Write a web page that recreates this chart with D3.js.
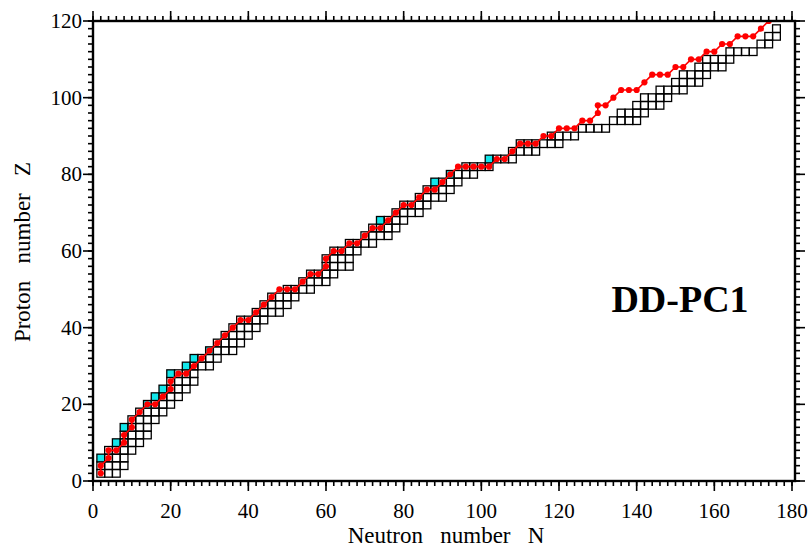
<!DOCTYPE html>
<html>
<head>
<meta charset="utf-8">
<script src="https://cdn.jsdelivr.net/npm/d3@7"></script>
<style>
  body { margin: 0; background: #fff; }
  svg { display: block; }
  text { font-family: "Liberation Serif", "Times New Roman", serif; white-space: pre; }
</style>
</head>
<body>
<svg id="chart" width="811" height="550"></svg>
<script>
// Even-even nuclei shown as squares: [Z, first N, last N]
const squareRows = [
  [2, 2, 6], [4, 2, 8], [6, 2, 8], [8, 4, 10], [10, 6, 12], [12, 8, 14],
  [14, 8, 14], [16, 10, 16], [18, 12, 18], [20, 14, 20], [22, 16, 22],
  [24, 18, 24], [26, 20, 26], [28, 20, 26], [30, 24, 30], [32, 26, 32],
  [34, 30, 36], [36, 32, 38], [38, 34, 40], [40, 36, 42], [42, 38, 44],
  [44, 42, 48], [46, 44, 50], [48, 46, 52], [50, 50, 56], [52, 54, 60],
  [54, 56, 62], [56, 60, 66], [58, 60, 66], [60, 62, 68], [62, 66, 72],
  [64, 70, 76], [66, 72, 78], [68, 74, 80], [70, 78, 84], [72, 80, 86],
  [74, 84, 90], [76, 86, 92], [78, 88, 94], [80, 92, 98], [82, 96, 102],
  [84, 102, 108], [86, 108, 114], [88, 110, 120], [90, 118, 124],
  [92, 126, 132], [94, 134, 140], [96, 136, 142], [98, 140, 146],
  [100, 142, 148], [102, 146, 152], [104, 150, 156], [106, 152, 158],
  [108, 156, 162], [110, 158, 164], [112, 164, 170], [114, 172, 174],
  [116, 174, 176], [118, 176, 176]
];

// Squares filled cyan: [N, Z]
const cyanNuclei = [
  [2, 6], [6, 10], [8, 14], [14, 20], [16, 22], [18, 24], [20, 28],
  [24, 30], [26, 32], [30, 34], [74, 68], [88, 78], [92, 80], [102, 84]
];

// DD-PC1 two-proton drip line: [N, Z]
const dripLine = [
  [2, 2], [2, 4], [4, 6], [4, 8], [6, 8], [8, 10], [8, 12], [10, 14], [10, 16],
  [12, 18], [14, 20], [16, 20], [18, 22], [20, 24], [20, 26], [22, 28], [24, 28],
  [26, 30], [28, 32], [30, 34], [32, 36], [34, 38], [36, 40], [38, 42], [40, 42],
  [42, 44], [44, 46], [46, 48], [48, 50], [50, 50], [52, 50], [54, 52], [56, 54],
  [58, 54], [60, 56], [60, 58], [62, 60], [64, 60], [66, 62], [68, 62], [70, 64],
  [72, 66], [74, 66], [76, 68], [78, 70], [80, 72], [82, 72], [84, 74], [86, 76],
  [88, 76], [90, 78], [92, 80], [94, 82], [96, 82], [98, 82], [100, 82], [102, 82],
  [104, 84], [106, 84], [108, 86], [110, 88], [112, 88], [114, 88], [116, 90],
  [118, 90], [120, 92], [122, 92], [124, 92], [126, 94], [128, 94], [130, 96],
  [130, 98], [132, 98], [134, 100], [136, 102], [138, 102], [140, 102], [142, 104],
  [144, 106], [146, 106], [148, 106], [150, 108], [152, 108], [154, 110], [156, 110],
  [158, 112], [160, 112], [162, 114], [164, 114], [166, 116], [168, 116], [170, 116],
  [172, 118], [174, 120]
];

const xTicks = [0, 20, 40, 60, 80, 100, 120, 140, 160, 180];
const yTicks = [0, 20, 40, 60, 80, 100, 120];

const svg = d3.select('#chart');
const x = d3.scaleLinear().domain([0, 180]).range([93, 792]);
const y = d3.scaleLinear().domain([0, 120]).range([481, 21]);
const frame = {left: 93, right: 795, top: 21, bottom: 481};

svg.append('defs').append('clipPath').attr('id', 'clip')
  .append('rect').attr('x', frame.left).attr('y', frame.top)
  .attr('width', frame.right - frame.left).attr('height', frame.bottom - frame.top);

const body = svg.append('g').attr('clip-path', 'url(#clip)');
const cell = x(2) - x(0);
const cellH = y(0) - y(2);

// expand rows into individual nuclei
const nuclei = [];
squareRows.forEach(([z, n0, n1]) => {
  for (let n = n0; n <= n1; n += 2) nuclei.push([n, z]);
});
cyanNuclei.forEach(([n, z]) => {
  if (!nuclei.some(d => d[0] === n && d[1] === z)) nuclei.push([n, z]);
});
const isCyan = d => cyanNuclei.some(c => c[0] === d[0] && c[1] === d[1]);

body.selectAll('rect.nuc')
  .data(nuclei)
  .enter()
  .append('rect')
  .attr('class', 'nuc')
  .attr('x', d => x(d[0] - 1))
  .attr('y', d => y(d[1] + 1))
  .attr('width', cell)
  .attr('height', cellH)
  .attr('fill', d => isCyan(d) ? '#12e6ea' : 'none')
  .attr('stroke', '#000')
  .attr('stroke-width', 1.3);

const line = d3.line().x(d => x(d[0])).y(d => y(d[1]));
body.append('path')
  .datum(dripLine)
  .attr('d', line)
  .attr('fill', 'none')
  .attr('stroke', '#ff0000')
  .attr('stroke-width', 1.6);

body.selectAll('circle.drip')
  .data(dripLine)
  .enter()
  .append('circle')
  .attr('class', 'drip')
  .attr('cx', d => x(d[0]))
  .attr('cy', d => y(d[1]))
  .attr('r', 3.1)
  .attr('fill', '#ff0000');

// axes: ticks point outward on all four sides
const minorX = d3.range(0, 181, 2);
const minorY = d3.range(0, 121, 2);

function drawAxis(side, scale, major, minor, majorLen, minorLen) {
  const g = svg.append('g');
  const add = (v, len) => {
    const p = scale(v);
    if (side === 'bottom') g.append('line').attr('x1', p).attr('x2', p).attr('y1', frame.bottom).attr('y2', frame.bottom + len);
    if (side === 'top') g.append('line').attr('x1', p).attr('x2', p).attr('y1', frame.top).attr('y2', frame.top - len);
    if (side === 'left') g.append('line').attr('y1', p).attr('y2', p).attr('x1', frame.left).attr('x2', frame.left - len);
    if (side === 'right') g.append('line').attr('y1', p).attr('y2', p).attr('x1', frame.right).attr('x2', frame.right + len);
  };
  minor.forEach(v => add(v, minorLen));
  major.forEach(v => add(v, majorLen));
  g.selectAll('line').attr('stroke', '#000').attr('stroke-width', 1.6);
}
drawAxis('bottom', x, xTicks, minorX, 10, 5);
drawAxis('top', x, xTicks, minorX, 10, 5);
drawAxis('left', y, yTicks, minorY, 10, 5);
drawAxis('right', y, yTicks, minorY, 10, 5);

svg.append('rect')
  .attr('x', frame.left).attr('y', frame.top)
  .attr('width', frame.right - frame.left).attr('height', frame.bottom - frame.top)
  .attr('fill', 'none').attr('stroke', '#000').attr('stroke-width', 2.4);

svg.selectAll('text.xt')
  .data(xTicks)
  .enter()
  .append('text')
  .attr('x', d => x(d))
  .attr('y', 518)
  .attr('text-anchor', 'middle')
  .attr('font-size', '21px')
  .text(d => d);

svg.selectAll('text.yt')
  .data(yTicks)
  .enter()
  .append('text')
  .attr('x', 82)
  .attr('y', d => y(d) + 7)
  .attr('text-anchor', 'end')
  .attr('font-size', '21px')
  .text(d => d);

svg.append('text')
  .attr('x', 446).attr('y', 543)
  .attr('text-anchor', 'middle')
  .attr('font-size', '23px')
  .text('Neutron   number   N');

svg.append('text')
  .attr('transform', 'translate(30,252) rotate(-90)')
  .attr('text-anchor', 'middle')
  .attr('font-size', '23px')
  .text('Proton   number   Z');

svg.append('text')
  .attr('x', 680).attr('y', 312)
  .attr('text-anchor', 'middle')
  .attr('font-size', '38px')
  .attr('font-weight', 'bold')
  .text('DD-PC1');
</script>
</body>
</html>
